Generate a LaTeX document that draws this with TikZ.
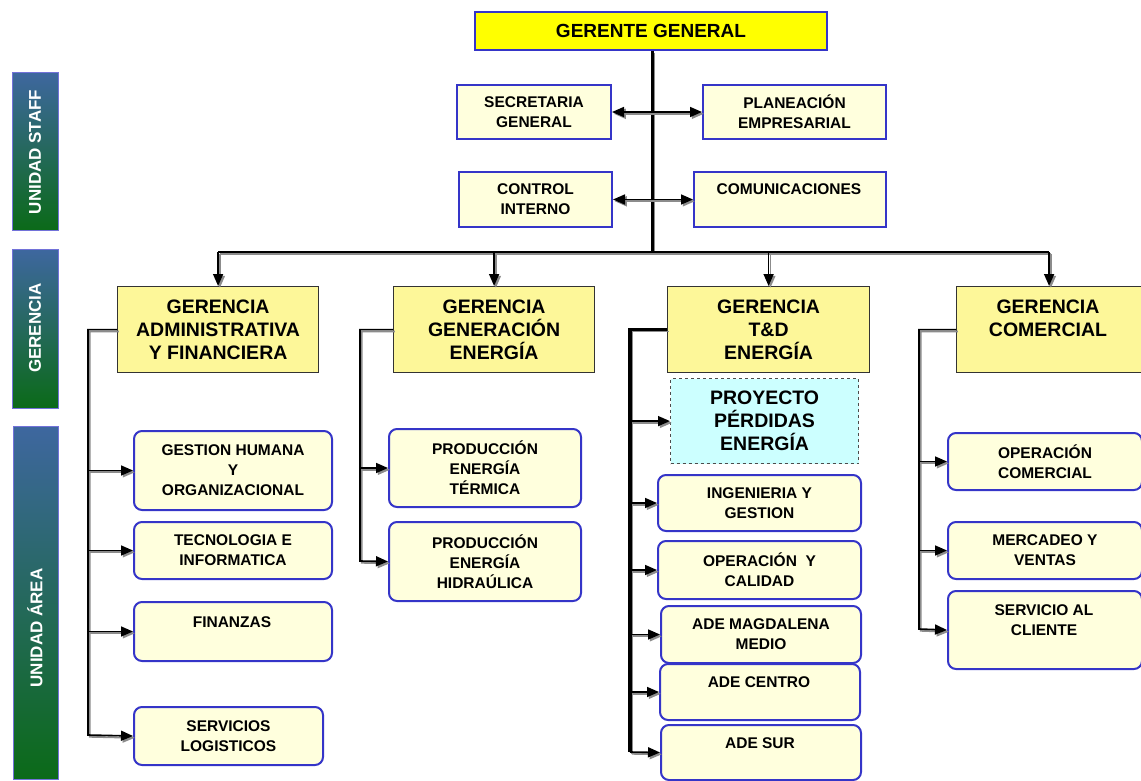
\documentclass[tikz,border=0pt]{standalone}
\usepackage{fontspec}
\setmainfont{Liberation Sans}
\usetikzlibrary{arrows.meta,calc}

\definecolor{bordeazul}{HTML}{3535C8}
\definecolor{crema}{HTML}{FFFFDD}
\definecolor{amarillo}{HTML}{FFFF00}
\definecolor{amarclaro}{HTML}{FDF799}
\definecolor{cian}{HTML}{CCFFFF}
\definecolor{barraarriba}{HTML}{3E679F}
\definecolor{barraabajo}{HTML}{0B6A18}

% box by its corners: name, style, x1, y1, x2, y2, text
\newcommand\caja[7]{%
  \node[#2, minimum width={(#5)-(#3)}, minimum height={(#6)-(#4)}] (#1) at (#3,#4) {#7};}

\tikzset{
  base/.style={anchor=north west, inner sep=0pt, align=center},
  staff/.style={base, draw=bordeazul, line width=2pt, fill=crema,
    font=\bfseries\fontsize{15.5}{20}\selectfont},
  area/.style={staff, rounded corners=8pt},
  gerente/.style={base, draw=bordeazul, line width=2pt, fill=amarillo,
    font=\bfseries\fontsize{19}{23}\selectfont},
  ger/.style={base, draw=black!80, line width=1.2pt, fill=amarclaro,
    font=\bfseries\fontsize{19.5}{23}\selectfont},
  proy/.style={ger, fill=cian, dashed, draw=black!70},
  txt/.style={inner sep=0pt, align=center, font=\bfseries\fontsize{15.5}{20}\selectfont},
  gtxt/.style={txt, font=\bfseries\fontsize{19.5}{23}\selectfont},
  bar/.style={anchor=north west, inner sep=0pt, draw=bordeazul!70, line width=0.8pt,
    top color=barraarriba, bottom color=barraabajo},
  bartext/.style={rotate=90, text=white, inner sep=0pt,
    font=\bfseries\fontsize{17}{20}\selectfont},
  conn/.style={line width=1.6pt, draw=black,
    preaction={draw=black!45, line width=1.8pt, transform canvas={shift={(1.8pt,-1.8pt)}}}},
  trunk/.style={conn, line width=3pt},
  tip/.style={-{Triangle[length=12pt,width=10pt]}},
}

\begin{document}
\begin{tikzpicture}[x=1pt,y=-1pt]
\useasboundingbox (0,0) rectangle (1141,781);

% level bars
\node[bar, minimum width=46, minimum height=158] (bst) at (12,72) {};
\node[bartext] (bst-t) at (35,152) {UNIDAD STAFF};
\node[bar, minimum width=46, minimum height=159] (bge) at (12,249) {};
\node[bartext] (bge-t) at (35,328) {GERENCIA};
\node[bar, minimum width=45, minimum height=353] (bar) at (13,426) {};
\node[bartext] (bar-t) at (35,628) {UNIDAD ÁREA};

% top and staff
\caja{gg}{gerente}{474}{11}{826}{49}{GERENTE GENERAL}
\caja{sec}{staff}{456}{84}{610}{138}{SECRETARIA\\GENERAL}
\caja{pla}{staff}{702}{84}{885}{138}{PLANEACIÓN\\EMPRESARIAL}
\caja{ctl}{staff}{458}{171}{611}{226}{CONTROL\\INTERNO}
\caja{cmu}{staff}{693}{171}{885}{226}{}
\node[txt] (cmu-t) at (789,189) {COMUNICACIONES};

% managements
\caja{adm}{ger}{117}{286}{318}{372}{GERENCIA\\ADMINISTRATIVA\\Y FINANCIERA}
\caja{gen}{ger}{393}{286}{594}{372}{GERENCIA\\GENERACIÓN\\ENERGÍA}
\caja{td}{ger}{667}{286}{869}{372}{GERENCIA\\T\&D\\ENERGÍA}
\caja{com}{ger}{956}{286}{1141}{372}{}
\node[gtxt] (com-t) at (1048,318) {GERENCIA\\COMERCIAL};

% administrative and financial areas
\caja{gh}{area}{133}{430}{331}{509}{GESTION HUMANA\\Y\\ORGANIZACIONAL}
\caja{tec}{area}{133}{521}{331}{578}{TECNOLOGIA E\\INFORMATICA}
\caja{fin}{area}{133}{601}{331}{660}{}
\node[txt] (fin-t) at (232,622) {FINANZAS};
\caja{log}{area}{133}{706}{322}{764}{SERVICIOS\\LOGISTICOS}

% generation areas
\caja{ter}{area}{388}{428}{580}{506}{PRODUCCIÓN\\ENERGÍA\\TÉRMICA}
\caja{hid}{area}{388}{521}{580}{600}{PRODUCCIÓN\\ENERGÍA\\HIDRAÚLICA}

% T&D areas
\caja{pro}{proy}{670}{378}{858}{463}{PROYECTO\\PÉRDIDAS\\ENERGÍA}
\caja{ing}{area}{657}{474}{860}{530}{INGENIERIA Y\\GESTION}
\caja{ope}{area}{657}{540}{860}{598}{OPERACIÓN~~Y\\CALIDAD}
\caja{mag}{area}{660}{605}{860}{662}{ADE MAGDALENA\\MEDIO}
\caja{cen}{area}{659}{663}{859}{719}{}
\node[txt] (cen-t) at (759,682) {ADE CENTRO};
\caja{sur}{area}{660}{724}{860}{779}{}
\node[txt] (sur-t) at (760,743) {ADE SUR};

% commercial areas
\caja{opc}{area}{947}{432}{1141}{489}{OPERACIÓN\\COMERCIAL}
\caja{mer}{area}{947}{521}{1141}{578}{MERCADEO Y\\VENTAS}
\caja{cli}{area}{947}{590}{1141}{668}{}
\node[txt] (cli-t) at (1044,620) {SERVICIO AL\\CLIENTE};

% main trunk and bus
\coordinate (bus) at (652,252);
\draw[trunk] (gg.south -| bus) -- (bus);
\draw[conn, line width=2pt] (adm.north |- bus) -- (com.north |- bus);
\foreach \g in {adm,gen,td,com}
  \draw[conn,tip] (\g.north |- bus) -- (\g.north);

% staff links
\draw[conn,tip] (bus |- sec.east) -- (sec.east);
\draw[conn,tip] (bus |- pla.west) -- (pla.west);
\draw[conn,tip] (bus |- ctl.east) -- (ctl.east);
\draw[conn,tip] (bus |- cmu.west) -- (cmu.west);

% administrative rail
\coordinate (radm) at (88,735);
\draw[conn,tip] (adm.west) -| (radm) -- (log.west);
\foreach \a in {gh,tec,fin}
  \draw[conn,tip] (radm |- \a.west) -- (\a.west);

% generation rail
\coordinate (rgen) at (360,561);
\draw[conn,tip] (gen.west) -| (rgen) -- (hid.west);
\draw[conn,tip] (rgen |- ter.west) -- (ter.west);

% T&D rail
\coordinate (rtd) at (630,752);
\draw[conn,line width=3.5pt] (td.west) -| (rtd);
\draw[conn,tip] (rtd) -- (sur.west);
\foreach \a in {pro,ing,ope,mag,cen}
  \draw[conn,tip] (rtd |- \a.west) -- (\a.west);

% commercial rail
\coordinate (rcom) at (919,629);
\draw[conn,tip] (com.west) -| (rcom) -- (cli.west);
\foreach \a in {opc,mer}
  \draw[conn,tip] (rcom |- \a.west) -- (\a.west);
\end{tikzpicture}
\end{document}
